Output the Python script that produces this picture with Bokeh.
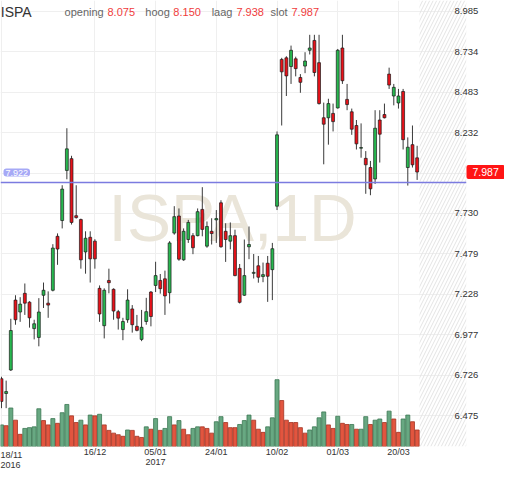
from bokeh.plotting import figure
from bokeh.models import (Range1d, FixedTicker, Span, Label, BoxAnnotation, ColumnDataSource,
                          LinearAxis, Grid)
from bokeh.embed import file_html
from bokeh.resources import INLINE

symbol = "ISPA"
interval = "1D"

opens = [6.704, 6.612, 6.758, 7.192, 7.118, 7.234, 7.179, 7.015, 6.960, 7.222,
         7.173, 7.253, 7.588, 7.686, 7.997, 8.070, 7.716, 7.692, 7.491, 7.582,
         7.558, 7.265, 7.033, 7.314, 7.259, 7.120, 7.009, 7.070, 7.137, 7.029,
         6.948, 7.059, 7.242, 7.283, 7.314, 7.324, 7.238, 7.608, 7.714, 7.442,
         7.568, 7.592, 7.592, 7.755, 7.527, 7.619, 7.690, 7.796, 7.619, 7.558,
         7.592, 7.389, 7.222, 7.523, 7.358, 7.405, 7.338, 7.421, 7.381, 7.775,
         8.686, 8.696, 8.642, 8.690, 8.574, 8.645, 8.743, 8.804, 8.666, 8.324,
         8.324, 8.351, 8.385, 8.757, 8.438, 8.361, 8.276, 8.135, 8.072, 8.015,
         7.944, 8.310, 8.344, 8.595, 8.459, 8.416, 8.487, 8.015, 8.157, 8.075]
highs = [6.716, 6.692, 7.076, 7.222, 7.210, 7.295, 7.185, 7.070, 7.204, 7.301,
         7.246, 7.539, 7.606, 7.905, 8.259, 8.088, 7.905, 7.698, 7.619, 7.619,
         7.570, 7.283, 7.265, 7.387, 7.265, 7.131, 7.082, 7.259, 7.161, 7.100,
         7.131, 7.206, 7.248, 7.430, 7.354, 7.375, 7.558, 7.775, 7.761, 7.637,
         7.690, 7.608, 7.761, 7.893, 7.680, 7.700, 7.751, 7.812, 7.669, 7.674,
         7.629, 7.416, 7.568, 7.649, 7.478, 7.466, 7.425, 7.466, 7.547, 8.239,
         8.696, 8.706, 8.772, 8.703, 8.595, 8.731, 8.839, 8.839, 8.839, 8.418,
         8.442, 8.412, 8.751, 8.839, 8.534, 8.381, 8.310, 8.289, 8.117, 8.056,
         8.371, 8.371, 8.412, 8.635, 8.534, 8.503, 8.503, 8.202, 8.276, 8.150]
lows = [6.521, 6.521, 6.752, 7.039, 7.057, 7.100, 7.021, 6.948, 6.905, 7.143,
        7.082, 7.246, 7.411, 7.637, 7.942, 7.661, 7.698, 7.387, 7.356, 7.301,
        7.387, 7.057, 6.954, 7.234, 7.070, 7.009, 6.943, 7.051, 6.990, 6.998,
        6.937, 7.039, 7.029, 7.242, 7.232, 7.100, 7.171, 7.598, 7.436, 7.436,
        7.547, 7.477, 7.588, 7.588, 7.517, 7.537, 7.547, 7.517, 7.429, 7.507,
        7.340, 7.171, 7.218, 7.446, 7.326, 7.300, 7.303, 7.181, 7.192, 7.751,
        8.276, 8.459, 8.534, 8.581, 8.479, 8.601, 8.717, 8.581, 8.406, 8.035,
        8.157, 8.239, 8.381, 8.534, 8.371, 8.218, 8.127, 8.076, 7.852, 7.843,
        7.913, 8.046, 8.320, 8.503, 8.401, 8.381, 8.127, 7.903, 8.015, 7.938]
closes = [6.563, 6.624, 7.003, 7.070, 7.167, 7.173, 7.082, 7.045, 7.118, 7.253,
          7.161, 7.515, 7.509, 7.881, 8.131, 7.674, 7.704, 7.442, 7.576, 7.448,
          7.448, 7.106, 7.253, 7.300, 7.124, 7.080, 7.059, 7.192, 7.039, 7.004,
          7.023, 7.120, 7.090, 7.344, 7.263, 7.218, 7.547, 7.710, 7.446, 7.619,
          7.674, 7.517, 7.741, 7.631, 7.649, 7.605, 7.698, 7.523, 7.568, 7.592,
          7.344, 7.178, 7.344, 7.537, 7.364, 7.334, 7.350, 7.340, 7.511, 8.218,
          8.609, 8.584, 8.743, 8.629, 8.544, 8.676, 8.757, 8.605, 8.412, 8.284,
          8.412, 8.300, 8.743, 8.554, 8.406, 8.253, 8.162, 8.139, 8.032, 7.883,
          8.259, 8.222, 8.324, 8.527, 8.513, 8.459, 8.188, 8.141, 8.032, 7.987]
volumes = [55, 53, 98, 67, 31, 46, 48, 50, 96, 66,
           55, 71, 59, 86, 107, 78, 61, 67, 55, 80,
           78, 82, 55, 41, 34, 30, 26, 42, 41, 26,
           23, 50, 44, 71, 41, 46, 76, 55, 66, 44,
           30, 46, 50, 50, 46, 34, 63, 76, 61, 48,
           48, 56, 66, 80, 67, 44, 36, 50, 73, 170,
           117, 67, 61, 61, 48, 34, 42, 50, 73, 88,
           55, 46, 77, 59, 56, 56, 44, 44, 76, 56,
           67, 70, 61, 90, 70, 36, 70, 80, 63, 42]
volume_up = [1, 0, 1, 0, 0, 1, 1, 1, 1, 0,
             0, 1, 0, 1, 1, 0, 0, 1, 0, 1,
             0, 1, 0, 0, 0, 0, 0, 1, 0, 0,
             0, 1, 0, 1, 0, 1, 1, 0, 1, 0,
             0, 1, 1, 0, 0, 0, 1, 1, 0, 0,
             0, 1, 1, 1, 0, 0, 0, 1, 1, 1,
             0, 0, 0, 0, 0, 0, 1, 1, 1, 1,
             0, 0, 1, 0, 0, 1, 0, 1, 1, 0,
             1, 1, 0, 1, 0, 0, 1, 1, 0, 0]

date_tick_index = [0, 20, 33, 46, 59, 72, 85]
date_tick_labels = ["18/11\n2016", "16/12", "05/01\n2017", "24/01", "10/02", "01/03", "20/03"]
price_ticks = [6.475, 6.726, 6.977, 7.228, 7.479, 7.730, 7.981, 8.232, 8.483, 8.734, 8.985]
ref_level = 7.922
header_names = ["opening", "hoog", "laag", "slot"]
header_values = [8.075, 8.150, 7.938, 7.987]

n = len(closes)
xs = list(range(n))
UP, DOWN = "#27b84f", "#e8121a"
src = ColumnDataSource(dict(
    x=xs, open=opens, high=highs, low=lows, close=closes,
    top=[max(o, c) for o, c in zip(opens, closes)],
    bottom=[min(o, c) for o, c in zip(opens, closes)],
    color=[UP if c >= o else DOWN for o, c in zip(opens, closes)],
    volume=volumes,
    vfill=["#68a882" if u else "#e2553f" for u in volume_up],
    vline=["#3b7753" if u else "#a33322" for u in volume_up],
))

FONT = "Liberation Sans"
x_start, x_end = -0.21, 99.57
p = figure(width=504, height=469, x_range=Range1d(x_start, x_end), y_range=Range1d(6.283, 9.052),
           output_backend="svg", toolbar_location=None,
           x_axis_location=None, y_axis_location=None,
           min_border_left=0, min_border_right=38, min_border_top=0, min_border_bottom=0)
p.extra_y_ranges = {"vol": Range1d(0, 1135)}
p.outline_line_color = None
p.background_fill_color = "white"
p.grid.visible = False

xticker = FixedTicker(ticks=date_tick_index)
yticker = FixedTicker(ticks=price_ticks)
p.add_layout(Grid(dimension=0, ticker=xticker, grid_line_color="#efefef"))
p.add_layout(Grid(dimension=1, ticker=yticker, grid_line_color="#efefef"))

# last price marker on the price scale (right panel, nearest the frame)
last_label = Label(x=x_end, y=closes[-1], text=f"{closes[-1]:.3f}", text_font=FONT,
                   text_font_size="10.5px", text_color="white", text_baseline="middle",
                   background_fill_color="#ff1414", border_radius=2, padding=(6, 3))
p.add_layout(last_label, "right")

yaxis = LinearAxis(ticker=yticker, major_label_standoff=-50)
yaxis.major_label_overrides = {t: ("" if t == 7.981 else f"{t:.3f}") for t in price_ticks}
p.add_layout(yaxis, "right")

# first date label kept inside the left edge (below panel, nearest the frame)
first_date = Label(x=x_start, y=6.283, y_offset=-3, text=date_tick_labels[0], text_font=FONT,
                   text_font_size="9px", text_color="#333333", text_baseline="top",
                   text_align="left", text_line_height=1.0)
p.add_layout(first_date, "below")

xaxis = LinearAxis(ticker=xticker, major_label_standoff=-20)
xaxis.major_label_overrides = {i: ("" if i == 0 else lab) for i, lab in zip(date_tick_index, date_tick_labels)}
p.add_layout(xaxis, "below")

for ax in (xaxis, yaxis):
    ax.axis_line_color = None
    ax.major_tick_line_color = None
    ax.minor_tick_line_color = None
    ax.major_tick_out = 0
    ax.major_tick_in = 0
    ax.minor_tick_out = 0
    ax.minor_tick_in = 0
    ax.major_label_text_font = FONT
    ax.major_label_text_color = "#333333"
    ax.major_label_text_line_height = 1.0
yaxis.major_label_text_font_size = "9.5px"
xaxis.major_label_text_font_size = "9px"

# future (empty) zone
p.add_layout(BoxAnnotation(left=n - 0.5, fill_color=None, fill_alpha=0, line_color=None,
                           hatch_pattern="/", hatch_color="#e4e4e4", hatch_scale=7,
                           hatch_weight=1, level="underlay"))

# watermark
p.add_layout(Label(x=49.5, y=7.70, text=f"{symbol},{interval}", text_font=FONT,
                   text_font_size="66px", text_color="#eae5d9", text_align="center",
                   text_baseline="middle", level="underlay"))

# volume
p.vbar(x="x", top="volume", bottom=0, width=0.86, y_range_name="vol", source=src,
       fill_color="vfill", line_color="vline", line_width=0.8)

# candles
p.segment(x0="x", y0="low", x1="x", y1="high", source=src, line_color="#3a3a3a", line_width=1)
p.vbar(x="x", top="top", bottom="bottom", width=0.62, source=src,
       fill_color="color", line_color="#1a1a1a", line_width=0.7)

# reference line
p.add_layout(Span(location=ref_level, dimension="width", line_color="#7b7be0", line_width=1.5))
p.add_layout(Label(x=0.43, y=ref_level, y_offset=6, text=f"{ref_level:.3f}", text_font=FONT,
                   text_font_size="9px", text_color="white", text_baseline="bottom",
                   background_fill_color="#a6a9f6", border_radius=3, padding=(2, 1)))

# header
p.add_layout(Label(x=-0.15, y=8.979, text=symbol, text_font=FONT, text_font_size="14px",
                   text_color="#333333", text_baseline="alphabetic"))
name_x = [13.5, 30.8, 45.0, 57.6]
val_x = [22.7, 36.8, 50.3, 62.1]
for nm, vx, v, nx in zip(header_names, val_x, header_values, name_x):
    p.add_layout(Label(x=nx, y=8.979, text=nm, text_font=FONT, text_font_size="11px",
                       text_color="#666666", text_baseline="alphabetic"))
    p.add_layout(Label(x=vx, y=8.979, text=f"{v:.3f}", text_font=FONT, text_font_size="11px",
                       text_color="#f03c3c", text_baseline="alphabetic"))

open("out.html", "w").write(file_html(p, INLINE))
